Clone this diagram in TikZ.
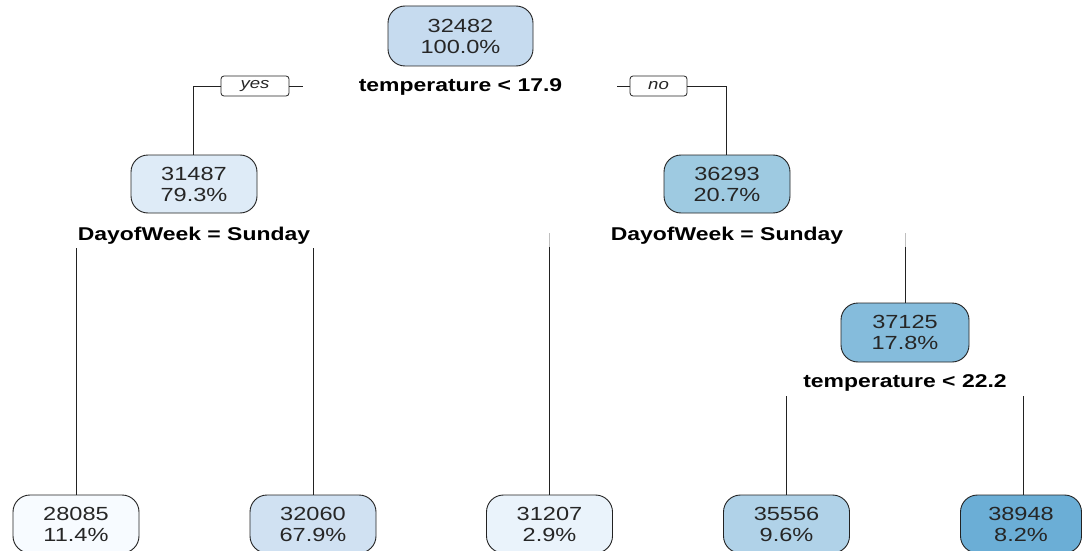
\documentclass[tikz,border=0pt]{standalone}
\usepackage{fontspec}
\setmainfont[FakeStretch=1.24]{Liberation Sans}
\definecolor{c1}{HTML}{C6DBEF}
\definecolor{c2}{HTML}{DEEBF7}
\definecolor{c3}{HTML}{9ECAE1}
\definecolor{c7}{HTML}{85BCDC}
\definecolor{l4}{HTML}{F7FBFF}
\definecolor{l5}{HTML}{D0E1F2}
\definecolor{l6}{HTML}{EAF3FB}
\definecolor{l14}{HTML}{B0D2E8}
\definecolor{l15}{HTML}{6BAED6}
\definecolor{edge}{HTML}{222222}
\tikzset{
  x=1pt,y=1pt,
  treenode/.style={draw=edge,line width=0.9pt,rounded corners=17pt,minimum width=126pt,minimum height=58pt,align=center,inner sep=0pt,font=\fontsize{19}{21}\selectfont,text=black!85,execute at begin node={\rule{0pt}{18pt}}},
  splitlabel/.style={font=\fontsize{18.5}{20}\selectfont\bfseries,inner sep=0pt,text=black},
  yesno/.style={draw=edge,line width=0.8pt,rounded corners=3pt,minimum height=20pt,inner sep=0pt,font=\fontsize{15}{17}\selectfont\itshape,text=black!85},
  branch/.style={draw=edge,line width=0.9pt},
  fade/.style={draw=black!25,line width=0.9pt}
}
\begin{document}
\begin{tikzpicture}
\useasboundingbox[fill=white] (0,0) rectangle (1082,-551);
% nodes
\node[treenode,fill=c1,minimum width=145pt,minimum height=60pt] (root) at (460.5,-36) {32482\\100.0\%};
\node[splitlabel] (s1) at (460.5,-87) {temperature < 17.9};
\node[yesno,minimum width=68pt] (yes) at (255,-86) {yes};
\node[yesno,minimum width=57pt] (no) at (658.5,-86) {no};
\node[treenode,fill=c2] (n2) at (194,-184) {31487\\79.3\%};
\node[treenode,fill=c3] (n3) at (727,-184) {36293\\20.7\%};
\node[splitlabel] (s2) at (194,-236) {DayofWeek = Sunday};
\node[splitlabel] (s3) at (727,-236) {DayofWeek = Sunday};
\node[treenode,fill=c7,minimum width=128pt,minimum height=59pt] (n7) at (905,-332.5) {37125\\17.8\%};
\node[splitlabel] (s7) at (905,-383) {temperature < 22.2};
\node[treenode,fill=l4] (n4) at (76,-524) {28085\\11.4\%};
\node[treenode,fill=l5] (n5) at (313,-524) {32060\\67.9\%};
\node[treenode,fill=l6] (n6) at (549.5,-524) {31207\\2.9\%};
\node[treenode,fill=l14] (n14) at (786.5,-524) {35556\\9.6\%};
\node[treenode,fill=l15,minimum width=121pt] (n15) at (1021,-524) {38948\\8.2\%};
% coordinates
\coordinate (yl) at (193,-86);
\coordinate (ye) at (303,-86);
\coordinate (nw) at (617,-86);
\coordinate (nr) at (726,-86);
\coordinate (a4) at (76,-248);
\coordinate (a5) at (313,-248);
\coordinate (g6) at (549.5,-233);
\coordinate (a6) at (549.5,-247);
\coordinate (g7) at (905,-233);
\coordinate (a7) at (905,-247);
\coordinate (a14) at (786.5,-396);
\coordinate (a15) at (1023,-396);
% connectors
\draw[branch] (yes.west) -- (yl) -- (yl |- n2.north);
\draw[branch] (yes.east) -- (ye);
\draw[branch] (no.west) -- (nw);
\draw[branch] (no.east) -- (nr) -- (nr |- n3.north);
\draw[branch] (a4) -- (a4 |- n4.north);
\draw[branch] (a5) -- (a5 |- n5.north);
\draw[fade] (g6) -- (a6);
\draw[branch] (a6) -- (a6 |- n6.north);
\draw[fade] (g7) -- (a7);
\draw[branch] (a7) -- (n7.north);
\draw[branch] (a14) -- (a14 |- n14.north);
\draw[branch] (a15) -- (a15 |- n15.north);
\end{tikzpicture}
\end{document}
